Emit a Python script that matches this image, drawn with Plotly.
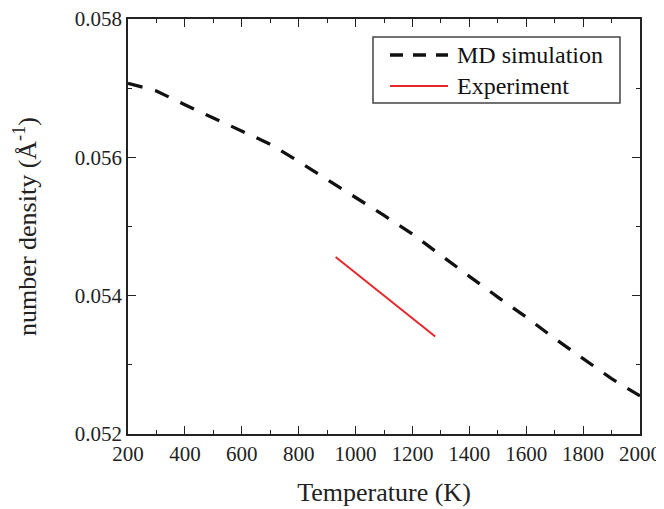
import plotly.graph_objects as go

# MD simulation (dashed black)
md_temp = [200, 300, 400, 500, 600, 700, 800, 900, 1000, 1100, 1200, 1300,
           1400, 1500, 1600, 1700, 1800, 1900, 2000]
md_density = [0.05707, 0.05696, 0.05676, 0.05657, 0.05639, 0.05619, 0.05594,
              0.05568, 0.05543, 0.05516, 0.05489, 0.05458, 0.05428, 0.05398,
              0.05369, 0.05338, 0.05309, 0.05280, 0.05255]

# Experiment (solid red)
exp_temp = [930, 1000, 1050, 1120, 1200, 1280]
exp_density = [0.05456, 0.05433, 0.05416, 0.05393, 0.05368, 0.05341]

x_ticks = [200, 400, 600, 800, 1000, 1200, 1400, 1600, 1800, 2000]
y_ticks = [0.052, 0.054, 0.056, 0.058]
y_tick_labels = ["0.052", "0.054", "0.056", "0.058"]
series_names = ["MD simulation", "Experiment"]

FONT = "Liberation Serif"
axis_color = "#222222"
md_color = "#111111"
exp_color = "#e8262b"
md_dash = "15px,13px"

fig = go.Figure()
fig.add_trace(go.Scatter(
    x=md_temp, y=md_density, mode="lines", name=series_names[0],
    line=dict(color=md_color, width=3.3, dash=md_dash), showlegend=False,
))
fig.add_trace(go.Scatter(
    x=exp_temp, y=exp_density, mode="lines", name=series_names[1],
    line=dict(color=exp_color, width=2), showlegend=False,
))
# invisible copy on the mirror axes so their ticks are drawn
fig.add_trace(go.Scatter(
    x=md_temp, y=md_density, mode="lines", xaxis="x2", yaxis="y2",
    line=dict(color="rgba(0,0,0,0)", width=0), showlegend=False,
    hoverinfo="skip",
))

# ---- legend drawn as shapes + annotations (paper coords) ----
box_x0, box_x1, box_y0, box_y1 = 0.4785, 0.9609, 0.7976, 0.9566
samp_x0, samp_x1, text_x = 0.5117, 0.6250, 0.6387
row_y = [0.9133, 0.8386]

fig.add_shape(type="rect", xref="paper", yref="paper",
              x0=box_x0, x1=box_x1, y0=box_y0, y1=box_y1,
              line=dict(color="#444444", width=1.5), fillcolor="white",
              layer="above")
fig.add_shape(type="line", xref="paper", yref="paper",
              x0=samp_x0, x1=samp_x1, y0=row_y[0], y1=row_y[0],
              line=dict(color=md_color, width=3.3, dash="13px,10px"),
              layer="above")
fig.add_shape(type="line", xref="paper", yref="paper",
              x0=samp_x0, x1=samp_x1, y0=row_y[1], y1=row_y[1],
              line=dict(color=exp_color, width=2), layer="above")
for name, ry in zip(series_names, row_y):
    fig.add_annotation(xref="paper", yref="paper", x=text_x, y=ry,
                       text=name, showarrow=False, xanchor="left",
                       yanchor="middle",
                       font=dict(family=FONT, size=24, color="#111111"))

tick_common = dict(
    ticks="inside", ticklen=8, tickwidth=1.4, tickcolor=axis_color,
    showgrid=False, zeroline=False, automargin=False,
)

x_minor = dict(ticks="inside", ticklen=4, dtick=100, tick0=200,
               tickcolor=axis_color, tickwidth=1.4, showgrid=False)
y_minor = dict(ticks="inside", ticklen=4, dtick=0.001, tick0=0.052,
               tickcolor=axis_color, tickwidth=1.4, showgrid=False)

fig.update_layout(
    width=656, height=501,
    margin=dict(l=120, r=24, t=11, b=75, autoexpand=False),
    paper_bgcolor="white", plot_bgcolor="white",
    font=dict(family=FONT, color=axis_color),
    showlegend=False,
    xaxis=dict(
        range=[200, 2000], tickvals=x_ticks, minor=x_minor,
        showline=True, linecolor=axis_color, linewidth=1.6,
        ticklabeloverflow="allow",
        tickfont=dict(family=FONT, size=21, color=axis_color),
        title=dict(text="Temperature (K)", standoff=18,
                   font=dict(family=FONT, size=26, color=axis_color)),
        **tick_common,
    ),
    yaxis=dict(
        range=[0.052, 0.058], tickvals=y_ticks, ticktext=y_tick_labels,
        minor=y_minor,
        showline=True, linecolor=axis_color, linewidth=1.6,
        ticklabeloverflow="allow",
        tickfont=dict(family=FONT, size=21, color=axis_color),
        title=dict(text="number density (Å<sup>-1</sup>)", standoff=31,
                   font=dict(family=FONT, size=26, color=axis_color)),
        **tick_common,
    ),
    xaxis2=dict(
        range=[200, 2000], tickvals=x_ticks, minor=x_minor,
        overlaying="x", side="top", showticklabels=False,
        showline=True, linecolor=axis_color, linewidth=1.6,
        **tick_common,
    ),
    yaxis2=dict(
        range=[0.052, 0.058], tickvals=y_ticks, minor=y_minor,
        overlaying="y", side="right", showticklabels=False,
        showline=True, linecolor=axis_color, linewidth=1.6,
        **tick_common,
    ),
)

fig.write_html("out.html")
